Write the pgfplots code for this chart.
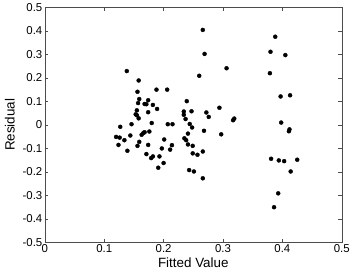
\documentclass[border=0pt]{standalone}
\usepackage{fontspec}
\setmainfont{Liberation Sans}
\usepackage{pgfplots}
\pgfplotsset{compat=1.18}
\usetikzlibrary{calc}

\pgfplotstableread{
x y
0.138 0.229
0.158 0.189
0.156 0.141
0.188 0.150
0.206 0.150
0.159 0.110
0.157 0.093
0.174 0.105
0.168 0.089
0.171 0.088
0.182 0.085
0.189 0.068
0.155 0.062
0.174 0.054
0.153 0.045
0.155 0.041
0.158 0.028
0.180 0.008
0.146 0.003
0.207 0.003
0.215 0.003
0.127 -0.008
0.120 -0.051
0.126 -0.054
0.134 -0.065
0.124 -0.085
0.144 -0.045
0.163 -0.042
0.166 -0.034
0.168 -0.031
0.176 -0.028
0.159 -0.072
0.156 -0.089
0.139 -0.110
0.174 -0.085
0.201 -0.062
0.197 -0.100
0.214 -0.086
0.211 -0.105
0.171 -0.124
0.179 -0.141
0.182 -0.134
0.193 -0.134
0.200 -0.162
0.191 -0.182
0.266 0.404
0.269 0.302
0.306 0.241
0.260 0.209
0.239 0.101
0.234 0.057
0.234 0.043
0.247 0.058
0.272 0.053
0.276 0.034
0.294 0.073
0.237 0.025
0.317 0.020
0.319 0.027
0.244 0.004
0.248 -0.011
0.268 -0.025
0.241 -0.037
0.297 -0.040
0.235 -0.057
0.238 -0.065
0.241 -0.083
0.249 -0.089
0.249 -0.121
0.257 -0.127
0.266 -0.113
0.243 -0.192
0.251 -0.198
0.266 -0.227
0.388 0.375
0.380 0.311
0.405 0.297
0.379 0.220
0.397 0.121
0.413 0.126
0.398 0.010
0.412 -0.019
0.411 -0.027
0.381 -0.144
0.394 -0.151
0.403 -0.154
0.425 -0.148
0.414 -0.198
0.393 -0.291
0.386 -0.350
}\residuals

\begin{document}
\begin{tikzpicture}
\begin{axis}[
  name=ax,
  scale only axis,
  width=298bp, height=236bp,
  xmin=0, xmax=0.5, ymin=-0.5, ymax=0.5,
  xtick={0,0.1,...,0.5},
  ytick={-0.5,-0.4,...,0.5},
  tick align=inside,
  major tick length=3.5bp,
  tick style={black!70, line width=0.4pt},
  axis line style={black!70, line width=0.5pt},
  tick label style={font=\fontsize{11.5}{13}\selectfont},
  label style={font=\fontsize{13.5}{15}\selectfont},
  /pgf/number format/assume math mode=true,
  /pgf/number format/fixed,
  /pgf/number format/precision=1,
  xticklabel style={yshift=1bp},
  yticklabel style={xshift=1bp},
  xlabel={Fitted Value},
  ylabel={Residual},
  xlabel style={yshift=2bp},
  ylabel style={yshift=1bp},
]
\addplot[only marks, mark=*, mark size=2bp, mark options={fill=black, draw=black}] table[x=x, y=y] {\residuals};
\end{axis}
\path[use as bounding box] ($(ax.south west)+(-45bp,-31bp)$) rectangle ($(ax.north east)+(10bp,6bp)$);
\end{tikzpicture}
\end{document}
